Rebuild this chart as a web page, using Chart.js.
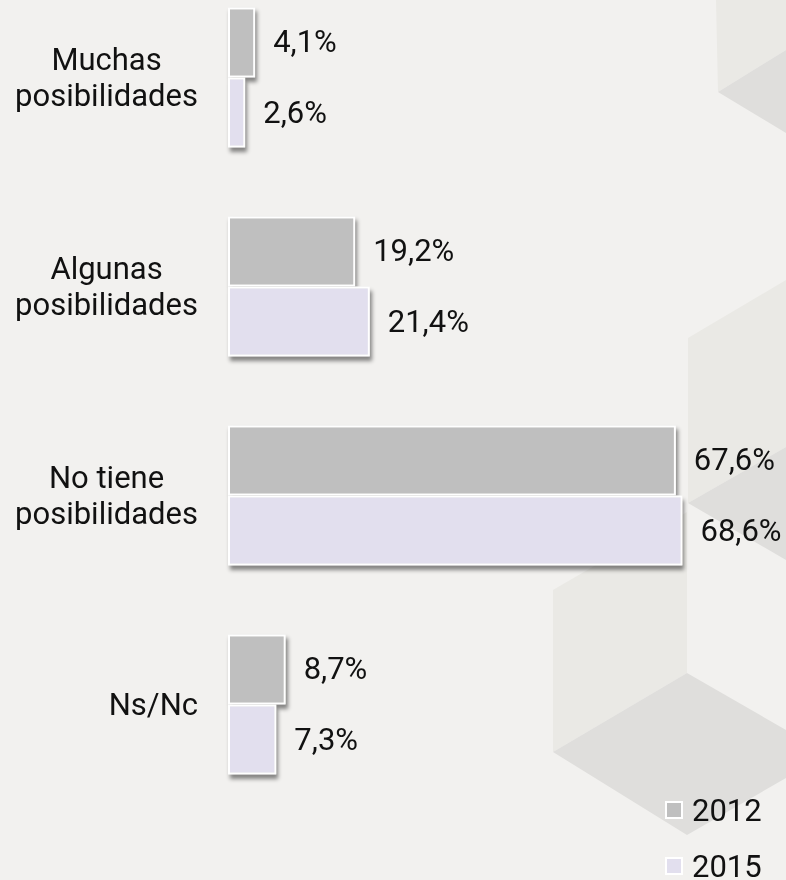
<!DOCTYPE html>
<html>
<head>
<meta charset="utf-8">
<script src="https://cdn.jsdelivr.net/npm/chart.js@4.4.0/dist/chart.umd.min.js"></script>
<style>
  body { margin: 0; width: 786px; height: 880px; overflow: hidden; position: relative; background: #f2f1ef; font-family: Roboto, sans-serif; }
  #fondo { position: absolute; left: 0; top: 0; }
  #contenedor { position: absolute; left: 0; top: -27px; width: 786px; height: 836px; }
  #leyenda { position: absolute; left: 665px; top: 782px; }
  .item { display: flex; align-items: center; height: 56px; font-size: 31px; line-height: 1; color: #111; }
  .caja { width: 18px; height: 18px; box-sizing: border-box; border: 2px solid #fff; margin-right: 9px; }
</style>
</head>
<body>
<svg id="fondo" width="786" height="880">
  <polygon points="716,0 786,0 786,50 718,92" fill="#eae9e5"/>
  <polygon points="718,92 786,50 786,133" fill="#dfdedc"/>
  <polygon points="688,338 786,280 786,447 688,503" fill="#eae9e5"/>
  <polygon points="688,503 786,447 786,560" fill="#dfdedc"/>
  <polygon points="553,590 687,512 687,673 553,752" fill="#eae9e5"/>
  <polygon points="553,752 687,673 786,730 786,778 687,835" fill="#dfdedc"/>
</svg>
<div id="contenedor"><canvas id="grafico"></canvas></div>
<div id="leyenda"></div>

<script>
// Datos
const categorias = [['Muchas', 'posibilidades'], ['Algunas', 'posibilidades'], ['No tiene', 'posibilidades'], ['Ns/Nc']];
const anios = ['2012', '2015'];
const valores2012 = [4.1, 19.2, 67.6, 8.7];
const valores2015 = [2.6, 21.4, 68.6, 7.3];
const colores = ['#bfbfbf', '#e2dfee'];

const FUENTE = '31px Roboto';

// sombra debajo de las barras
const sombras = {
  id: 'sombras',
  beforeDatasetsDraw(chart) {
    const ctx = chart.ctx;
    ctx.save();
    ctx.shadowColor = 'rgba(0,0,0,0.45)';
    ctx.shadowBlur = 4;
    ctx.shadowOffsetX = 2;
    ctx.shadowOffsetY = 4;
    ctx.fillStyle = '#f2f1ef';
    chart.getSortedVisibleDatasetMetas().forEach(meta => {
      meta.data.forEach(bar => {
        const p = bar.getProps(['x', 'y', 'base', 'height'], true);
        ctx.fillRect(p.base, p.y - p.height / 2, p.x - p.base, p.height);
      });
    });
    ctx.restore();
  }
};

// porcentajes al final de cada barra
const etiquetasValores = {
  id: 'etiquetasValores',
  afterDatasetsDraw(chart) {
    const ctx = chart.ctx;
    ctx.save();
    ctx.font = FUENTE;
    ctx.fillStyle = '#111';
    ctx.textAlign = 'left';
    ctx.textBaseline = 'alphabetic';
    chart.data.datasets.forEach((ds, i) => {
      chart.getDatasetMeta(i).data.forEach((bar, j) => {
        const txt = ds.data[j].toFixed(1).replace('.', ',') + '%';
        ctx.fillText(txt, bar.x + 18, bar.y + 10);
      });
    });
    ctx.restore();
  }
};

// nombres de categoria, centrados dentro de su bloque
const etiquetasCategorias = {
  id: 'etiquetasCategorias',
  afterDraw(chart) {
    const ctx = chart.ctx;
    const y = chart.scales.y;
    ctx.save();
    ctx.font = FUENTE;
    ctx.fillStyle = '#111';
    ctx.textAlign = 'center';
    ctx.textBaseline = 'alphabetic';
    categorias.forEach((lineas, i) => {
      const cy = y.getPixelForValue(i);
      const ancho = Math.max(...lineas.map(l => ctx.measureText(l).width));
      const cx = 198 - ancho / 2;
      lineas.forEach((l, k) => {
        ctx.fillText(l, cx, cy + 10 + (k - (lineas.length - 1) / 2) * 36);
      });
    });
    ctx.restore();
  }
};

const ctx = document.getElementById('grafico').getContext('2d');
const grafico = new Chart(ctx, {
  type: 'bar',
  data: {
    labels: categorias,
    datasets: [
      { label: anios[0], data: valores2012, backgroundColor: colores[0] },
      { label: anios[1], data: valores2015, backgroundColor: colores[1] }
    ]
  },
  options: {
    indexAxis: 'y',
    responsive: true,
    maintainAspectRatio: false,
    animation: false,
    layout: { padding: { left: 228, right: 28, top: 0, bottom: 0 } },
    datasets: {
      bar: {
        barPercentage: 1,
        categoryPercentage: 0.67,
        borderWidth: 2,
        borderColor: '#ffffff',
        borderSkipped: false
      }
    },
    scales: {
      x: { display: false, min: 0, max: 80 },
      y: { display: false }
    },
    plugins: {
      legend: { display: false },
      tooltip: { enabled: false }
    }
  },
  plugins: [sombras, etiquetasValores, etiquetasCategorias]
});

// leyenda vertical abajo a la derecha
const leyenda = document.getElementById('leyenda');
grafico.data.datasets.forEach(ds => {
  const item = document.createElement('div');
  item.className = 'item';
  item.innerHTML = `<span class="caja" style="background:${ds.backgroundColor}"></span><span>${ds.label}</span>`;
  leyenda.appendChild(item);
});
</script>
</body>
</html>
